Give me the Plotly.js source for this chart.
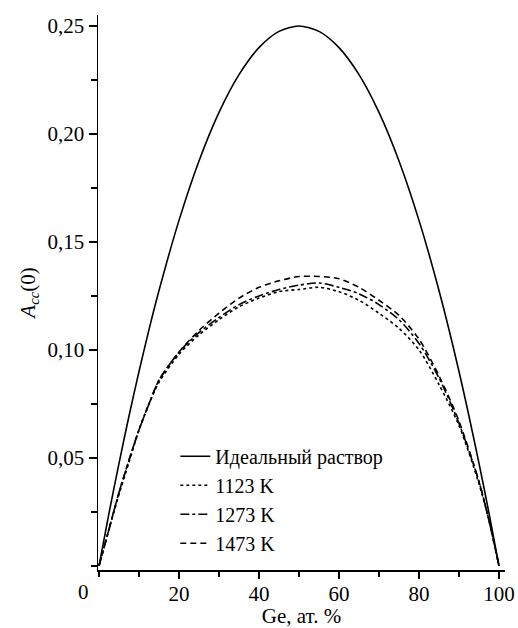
<!DOCTYPE html>
<html>
<head>
<meta charset="utf-8">
<script src="https://cdn.plot.ly/plotly-3.0.1.min.js"></script>
<style>html,body{margin:0;padding:0;background:#fff;}#chart{width:518px;height:628px;}</style>
</head>
<body>
<div id="chart"></div>
<script>
var geContent = [0, 2.5, 5, 7.5, 10, 12.5, 15, 20, 25, 30, 35, 40, 45, 50, 55, 60, 65, 70, 75, 80, 85, 90, 95, 97.5, 100];
var idealValues = [0, 0.0244, 0.0475, 0.0694, 0.09, 0.1094, 0.1275, 0.16, 0.1875, 0.21, 0.2275, 0.24, 0.2475, 0.25, 0.2475, 0.24, 0.2275, 0.21, 0.1875, 0.16, 0.1275, 0.09, 0.0475, 0.0244, 0];
var k1123Values = [0, 0.017, 0.033, 0.048, 0.063, 0.075, 0.085, 0.098, 0.107, 0.114, 0.120, 0.124, 0.127, 0.128, 0.129, 0.127, 0.123, 0.117, 0.110, 0.100, 0.084, 0.065, 0.038, 0.021, 0];
var k1273Values = [0, 0.017, 0.034, 0.049, 0.063, 0.075, 0.086, 0.099, 0.108, 0.115, 0.121, 0.125, 0.128, 0.130, 0.131, 0.129, 0.126, 0.121, 0.114, 0.103, 0.087, 0.066, 0.039, 0.021, 0];
var k1473Values = [0, 0.017, 0.034, 0.049, 0.063, 0.075, 0.086, 0.099, 0.109, 0.117, 0.124, 0.129, 0.132, 0.134, 0.134, 0.133, 0.129, 0.123, 0.116, 0.105, 0.088, 0.067, 0.039, 0.021, 0];
var seriesNames = ["Идеальный раствор", "1123 K", "1273 K", "1473 K"];
var xTickVals = [20, 40, 60, 80, 100];
var xTickText = ["20", "40", "60", "80", "100"];
var yTickVals = [0.05, 0.10, 0.15, 0.20, 0.25];
var yTickText = ["0,05", "0,10", "0,15", "0,20", "0,25"];

var font = "Liberation Serif, Times New Roman, serif";
var fs = 21;
function tr(y, name, dash) {
  return {x: geContent, y: y, name: name, mode: "lines",
    line: {color: "#000", width: 1.6, dash: dash, shape: "spline", smoothing: 0.8}};
}
var data = [
  tr(idealValues, seriesNames[0], "solid"),
  tr(k1123Values, seriesNames[1], "dot"),
  tr(k1273Values, seriesNames[2], "dashdot"),
  tr(k1473Values, seriesNames[3], "6px,4px")
];
var layout = {
  width: 518, height: 628,
  margin: {l: 98, r: 13, t: 15, b: 58},
  paper_bgcolor: "#fff", plot_bgcolor: "#fff",
  font: {family: font, size: fs, color: "#000"},
  showlegend: true,
  legend: {x: 0.19, y: 0.24, xanchor: "left", yanchor: "top", bgcolor: "rgba(0,0,0,0)",
    font: {family: font, size: 20, color: "#000"}, itemwidth: 30, tracegroupgap: 0},
  xaxis: {range: [-0.25, 101.5], showline: true, linecolor: "#000", linewidth: 1.5,
    ticks: "outside", ticklen: 7, tickwidth: 1.5, tickcolor: "#000",
    tickvals: xTickVals, ticktext: xTickText, showgrid: false, zeroline: false,
    ticklabelstandoff: -3,
    minor: {dtick: 10, tick0: 0, ticks: "outside", ticklen: 5, tickwidth: 1.5, tickcolor: "#000", showgrid: false},
    title: {text: "Ge, ат. %", font: {family: font, size: fs}, standoff: 1},
    tickfont: {family: font, size: fs}},
  yaxis: {range: [-0.0019, 0.2551], showline: true, linecolor: "#000", linewidth: 1.5,
    ticks: "outside", ticklen: 8, tickwidth: 1.5, tickcolor: "#000",
    tickvals: yTickVals, ticktext: yTickText, showgrid: false, zeroline: false,
    minor: {dtick: 0.025, tick0: 0, ticks: "outside", ticklen: 6, tickwidth: 1.5, tickcolor: "#000", showgrid: false},
    title: {text: "<i>A</i><sub><i>cc</i></sub>(0)", font: {family: font, size: fs}, standoff: 6},
    tickfont: {family: font, size: fs}},
  annotations: [{text: "0", xref: "paper", yref: "paper", x: 0, y: 0, xanchor: "center", yanchor: "top",
    xshift: -15, yshift: -8, showarrow: false, font: {family: font, size: fs}}]
};
Plotly.newPlot("chart", data, layout, {displayModeBar: false, staticPlot: true});
</script>
</body>
</html>
